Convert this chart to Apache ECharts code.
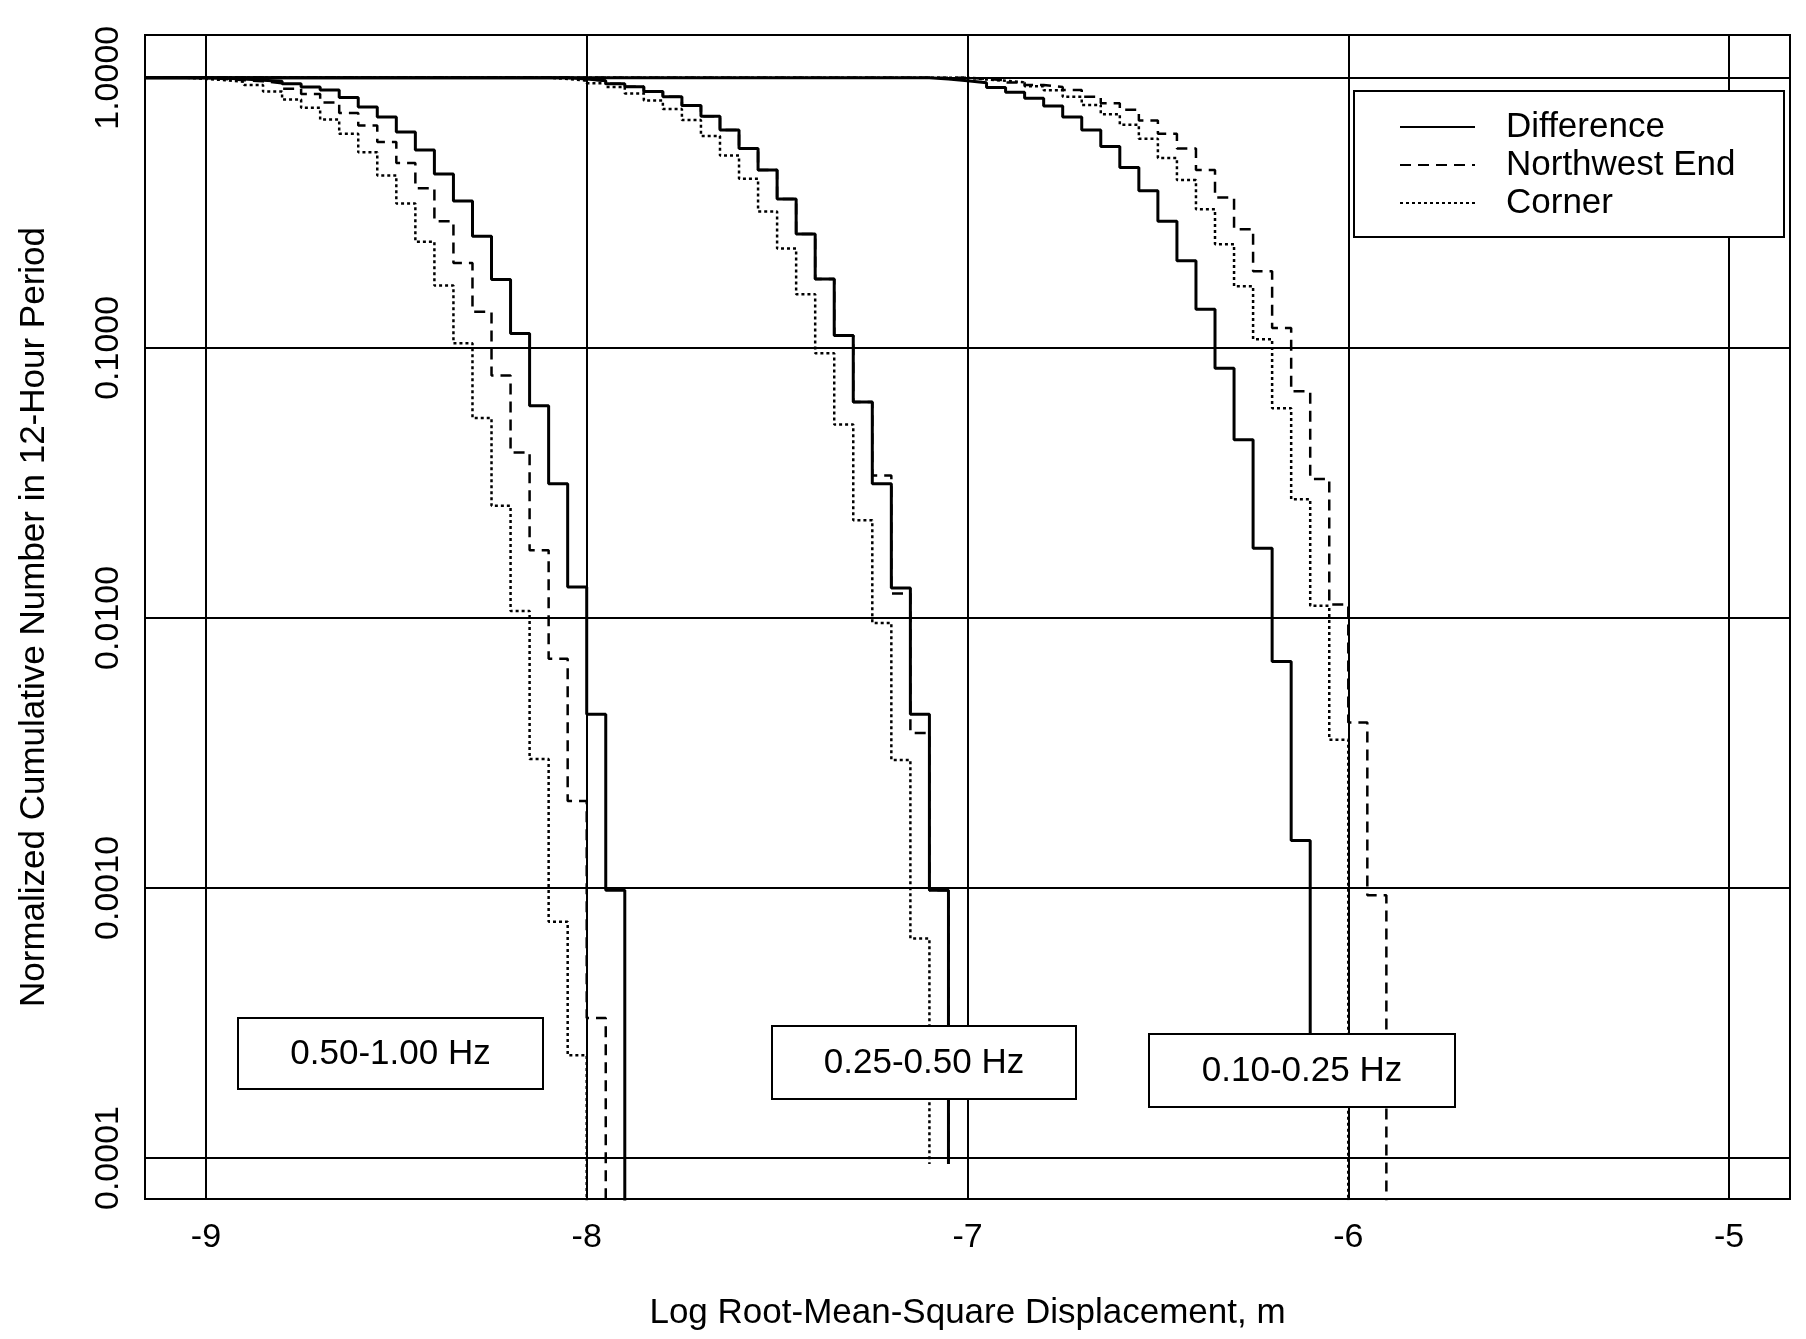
<!DOCTYPE html>
<html>
<head>
<meta charset="utf-8">
<title>Normalized Cumulative Number vs Log RMS Displacement</title>
<script src="https://cdn.jsdelivr.net/npm/echarts@6/dist/echarts.min.js"></script>
<style>
  html, body { margin: 0; padding: 0; background: #fff; }
  #chart { width: 1806px; height: 1339px; }
</style>
</head>
<body>
<div id="chart"></div>
<script>
// axis extents and ticks
const xMin = -9.16, xMax = -4.84;
const yMin = 7.05e-5, yMax = 1.44;
const xTicks = [-9, -8, -7, -6, -5];
const yTicks = [0.0001, 0.001, 0.01, 0.1, 1];

const seriesNames = ["Difference", "Northwest End", "Corner"];
const bandLabels = ["0.50-1.00 Hz", "0.25-0.50 Hz", "0.10-0.25 Hz"];

// step curves: [bin start (log m), normalized cumulative number]
const band1Difference = [
  [-9.16, 1.0], [-9.00, 0.995], [-8.95, 0.99], [-8.90, 0.98], [-8.85, 0.97], [-8.80, 0.95],
  [-8.75, 0.925], [-8.70, 0.90], [-8.65, 0.846], [-8.60, 0.78], [-8.55, 0.715], [-8.50, 0.63],
  [-8.45, 0.54], [-8.40, 0.44], [-8.35, 0.35], [-8.30, 0.259], [-8.25, 0.179], [-8.20, 0.113],
  [-8.15, 0.061], [-8.10, 0.0314], [-8.05, 0.013], [-8.00, 0.0044], [-7.95, 0.00098], [-7.90, 0.00001]
];
const band1NorthwestEnd = [
  [-9.16, 1.0], [-9.00, 0.99], [-8.95, 0.98], [-8.90, 0.97], [-8.85, 0.955], [-8.80, 0.91],
  [-8.75, 0.87], [-8.70, 0.81], [-8.65, 0.74], [-8.60, 0.666], [-8.55, 0.578], [-8.50, 0.484],
  [-8.45, 0.39], [-8.40, 0.294], [-8.35, 0.206], [-8.30, 0.136], [-8.25, 0.079], [-8.20, 0.041],
  [-8.15, 0.0178], [-8.10, 0.00706], [-8.05, 0.0021], [-8.00, 0.00033], [-7.95, 0.00001]
];
const band1Corner = [
  [-9.16, 1.0], [-9.05, 0.99], [-9.00, 0.98], [-8.95, 0.966], [-8.90, 0.94], [-8.85, 0.89],
  [-8.80, 0.83], [-8.75, 0.774], [-8.70, 0.70], [-8.65, 0.62], [-8.60, 0.53], [-8.55, 0.435],
  [-8.50, 0.342], [-8.45, 0.247], [-8.40, 0.170], [-8.35, 0.104], [-8.30, 0.055], [-8.25, 0.026],
  [-8.20, 0.0106], [-8.15, 0.0030], [-8.10, 0.00075], [-8.05, 0.00024], [-8.00, 0.00001]
];

const band2Difference = [
  [-9.16, 1.0], [-8.05, 0.99], [-8.00, 0.975], [-7.95, 0.951], [-7.90, 0.926], [-7.85, 0.89],
  [-7.80, 0.85], [-7.75, 0.79], [-7.70, 0.72], [-7.65, 0.64], [-7.60, 0.547], [-7.55, 0.455],
  [-7.50, 0.356], [-7.45, 0.264], [-7.40, 0.18], [-7.35, 0.111], [-7.30, 0.063], [-7.25, 0.0314],
  [-7.20, 0.0129], [-7.15, 0.0044], [-7.10, 0.00098], [-7.05, 0.000095]
];
const band2NorthwestEnd = [
  [-9.16, 1.0], [-8.05, 0.99], [-8.00, 0.975], [-7.95, 0.951], [-7.90, 0.926], [-7.85, 0.89],
  [-7.80, 0.85], [-7.75, 0.79], [-7.70, 0.72], [-7.65, 0.64], [-7.60, 0.547], [-7.55, 0.455],
  [-7.50, 0.356], [-7.45, 0.264], [-7.40, 0.18], [-7.35, 0.111], [-7.30, 0.063], [-7.25, 0.0337],
  [-7.20, 0.0123], [-7.15, 0.00375], [-7.10, 0.00098], [-7.05, 0.000095]
];
const band2Corner = [
  [-9.16, 1.0], [-8.10, 0.99], [-8.05, 0.975], [-8.00, 0.955], [-7.95, 0.924], [-7.90, 0.875],
  [-7.85, 0.824], [-7.80, 0.766], [-7.75, 0.697], [-7.70, 0.609], [-7.65, 0.515], [-7.60, 0.423],
  [-7.55, 0.32], [-7.50, 0.233], [-7.45, 0.158], [-7.40, 0.0955], [-7.35, 0.052], [-7.30, 0.023],
  [-7.25, 0.00958], [-7.20, 0.00298], [-7.15, 0.00065], [-7.10, 0.000095]
];

const band3Difference = [
  [-9.16, 1.0], [-7.10, 0.99], [-7.05, 0.975], [-7.00, 0.959], [-6.95, 0.92], [-6.90, 0.883],
  [-6.85, 0.84], [-6.80, 0.786], [-6.75, 0.716], [-6.70, 0.64], [-6.65, 0.556], [-6.60, 0.465],
  [-6.55, 0.382], [-6.50, 0.294], [-6.45, 0.21], [-6.40, 0.139], [-6.35, 0.084], [-6.30, 0.0457],
  [-6.25, 0.0181], [-6.20, 0.0069], [-6.15, 0.0015], [-6.10, 0.0002]
];
const band3NorthwestEnd = [
  [-9.16, 1.0], [-7.00, 0.99], [-6.95, 0.98], [-6.90, 0.96], [-6.85, 0.94], [-6.80, 0.925],
  [-6.75, 0.90], [-6.70, 0.851], [-6.65, 0.805], [-6.60, 0.762], [-6.55, 0.695], [-6.50, 0.621],
  [-6.45, 0.547], [-6.40, 0.455], [-6.35, 0.36], [-6.30, 0.275], [-6.25, 0.192], [-6.20, 0.1185],
  [-6.15, 0.069], [-6.10, 0.0327], [-6.05, 0.0112], [-6.00, 0.0041], [-5.95, 0.00094], [-5.90, 0.00001]
];
const band3Corner = [
  [-9.16, 1.0], [-7.00, 0.985], [-6.95, 0.975], [-6.90, 0.962], [-6.85, 0.931], [-6.80, 0.899],
  [-6.75, 0.85], [-6.70, 0.793], [-6.65, 0.733], [-6.60, 0.67], [-6.55, 0.595], [-6.50, 0.505],
  [-6.45, 0.418], [-6.40, 0.326], [-6.35, 0.242], [-6.30, 0.169], [-6.25, 0.1077], [-6.20, 0.0598],
  [-6.15, 0.0275], [-6.10, 0.0111], [-6.05, 0.00354], [-6.00, 0.00001]
];

const FONT = '"Liberation Sans", Arial, Helvetica, sans-serif';

const lineStyles = {
  "Difference": { color: "#000", width: 3, type: "solid" },
  "Northwest End": { color: "#000", width: 2.5, type: [11, 7] },
  "Corner": { color: "#000", width: 2.5, type: [3, 3] }
};

function stepSeries(name, data) {
  return {
    name: name,
    type: "line",
    step: "end",
    symbol: "none",
    data: data,
    itemStyle: { color: "#000" },
    lineStyle: lineStyles[name],
    z: 2
  };
}

// corner first, difference last so the solid line sits on top
const series = [
  stepSeries("Corner", band1Corner),
  stepSeries("Corner", band2Corner),
  stepSeries("Corner", band3Corner),
  stepSeries("Northwest End", band1NorthwestEnd),
  stepSeries("Northwest End", band2NorthwestEnd),
  stepSeries("Northwest End", band3NorthwestEnd),
  stepSeries("Difference", band1Difference),
  stepSeries("Difference", band2Difference),
  stepSeries("Difference", band3Difference)
];

function labelBox(left, top, w, h, text) {
  return {
    type: "group",
    left: left,
    top: top,
    z: 10,
    children: [
      {
        type: "rect", z: 10,
        shape: { x: 0, y: 0, width: w, height: h },
        style: { fill: "#fff", stroke: "#000", lineWidth: 2 }
      },
      {
        type: "text", z: 11, x: w / 2, y: h / 2 + 1,
        style: { text: text, fill: "#000", fontSize: 35, fontFamily: FONT, align: "center", verticalAlign: "middle" }
      }
    ]
  };
}

const chart = echarts.init(document.getElementById("chart"));

chart.setOption({
  animation: false,
  backgroundColor: "#fff",
  grid: {
    left: 145, right: 16, top: 35, bottom: 140,
    show: true, borderColor: "#000", borderWidth: 2, backgroundColor: "transparent"
  },
  legend: {
    data: seriesNames,
    orient: "vertical",
    left: 1394,
    top: 104,
    itemWidth: 75,
    itemHeight: 14,
    itemGap: 2,
    selectedMode: false,
    z: 20,
    // hide the marker dot that line legends add in the middle of the sample
    itemStyle: { color: "rgba(0,0,0,0)", borderColor: "rgba(0,0,0,0)", borderWidth: 0 },
    textStyle: { color: "#000", fontSize: 35, fontFamily: FONT, lineHeight: 36, padding: [0, 0, 0, 26] }
  },
  xAxis: {
    type: "value",
    min: xMin,
    max: xMax,
    name: "Log Root-Mean-Square Displacement, m",
    nameLocation: "middle",
    nameGap: 97,
    nameTextStyle: { color: "#000", fontSize: 35, fontFamily: FONT },
    axisLine: { show: false },
    axisTick: { show: false },
    axisLabel: {
      color: "#000", fontSize: 34, fontFamily: FONT, margin: 22,
      showMinLabel: false, showMaxLabel: false,
      formatter: function (v) {
        return xTicks.some(function (t) { return Math.abs(v - t) < 1e-6; }) ? String(Math.round(v)) : "";
      }
    },
    splitLine: { show: true, lineStyle: { color: "#000", width: 2 } }
  },
  yAxis: {
    type: "log",
    logBase: 10,
    min: yMin,
    max: yMax,
    name: "Normalized Cumulative Number in 12-Hour Period",
    nameLocation: "middle",
    nameGap: 93,
    nameTextStyle: { color: "#000", fontSize: 35, fontFamily: FONT },
    axisLine: { show: false },
    axisTick: { show: false },
    axisLabel: {
      color: "#000", fontSize: 34, fontFamily: FONT, rotate: 90, margin: 19,
      showMinLabel: false, showMaxLabel: false,
      formatter: function (v) {
        return yTicks.some(function (t) { return Math.abs(v - t) / t < 1e-6; }) ? v.toFixed(4) : "";
      }
    },
    splitLine: { show: true, lineStyle: { color: "#000", width: 2 } }
  },
  graphic: [
    {
      type: "rect", left: 1353, top: 90, z: 10,
      shape: { width: 430, height: 146 },
      style: { fill: "#fff", stroke: "#000", lineWidth: 2 }
    },
    labelBox(237, 1017, 305, 71, bandLabels[0]),
    labelBox(771, 1025, 304, 73, bandLabels[1]),
    labelBox(1148, 1033, 306, 73, bandLabels[2])
  ],
  series: series
});
</script>
</body>
</html>
